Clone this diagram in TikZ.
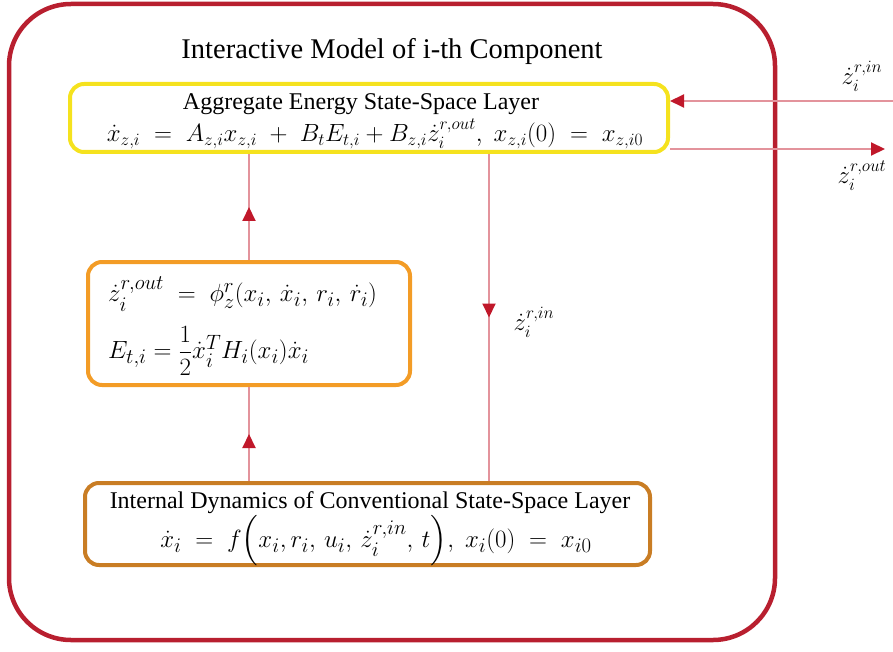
\documentclass[tikz,border=0pt]{standalone}
\usepackage{amsmath,amssymb}
\usepackage{fontspec}
\setmainfont{Liberation Serif}
\usetikzlibrary{arrows.meta, positioning, decorations.markings}
\definecolor{frameRed}{HTML}{B81F2F}
\definecolor{linkPink}{HTML}{E3939C}
\definecolor{tipRed}{HTML}{C0182A}
\definecolor{layerYellow}{HTML}{F5E21E}
\definecolor{layerOrange}{HTML}{F39C26}
\definecolor{layerBrown}{HTML}{C97D24}

\begin{document}
\begin{tikzpicture}[x=1pt, y=-1pt,
  layer/.style={draw, rounded corners=14pt, line width=4pt, inner sep=0pt},
  txt/.style={inner sep=0pt},
  link/.style={draw=linkPink, line width=2pt},
  midtip/.style={postaction={decorate}, decoration={markings,
    mark=at position 0.5 with {\arrow{Triangle[length=14pt, width=13pt, color=tipRed]}}}},
  endtip/.style={-{Triangle[length=14pt, width=13pt, color=tipRed]}}]
\useasboundingbox (0,0) rectangle (893,652);
\draw[frameRed, line width=4.5pt, rounded corners=62pt] (9,4) rectangle (775,640);
\node[txt] (title) at (392,52) {\fontsize{28.5}{32}\selectfont Interactive Model of i-th Component};

% aggregate energy layer
\node[layer, draw=layerYellow, minimum width=598pt, minimum height=68pt] (aggr) at (369,118) {};
\node[txt] (aggrtitle) at (361,104) {\fontsize{24}{28}\selectfont Aggregate Energy State-Space Layer};
\node[txt] (aggreq) at (375,134) {\fontsize{26}{30}\selectfont
  $\dot{x}_{z,i} \;=\; A_{z,i}x_{z,i} \;+\; B_tE_{t,i} + B_{z,i}\dot{z}_i^{r,out},\; x_{z,i}(0) \;=\; x_{z,i0}$};

% coupling outputs
\node[layer, draw=layerOrange, minimum width=322pt, minimum height=123pt] (coupl) at (249,323.5) {};
\node[txt, anchor=west] (zout) at (108,294) {\fontsize{27.5}{32}\selectfont
  $\dot{z}_i^{r,out} \;=\; \phi_z^r(x_i,\, \dot{x}_i,\, r_i,\, \dot{r}_i)$};
\node[txt, anchor=west] (energy) at (108,351) {\fontsize{27.5}{32}\selectfont
  $E_{t,i} = \dfrac{1}{2}\dot{x}_i^T H_i(x_i)\dot{x}_i$};

% internal dynamics layer
\node[layer, draw=layerBrown, minimum width=565pt, minimum height=82pt] (intern) at (367.5,524) {};
\node[txt] (interntitle) at (370,503) {\fontsize{24}{28}\selectfont Internal Dynamics of Conventional State-Space Layer};
\node[txt] (interneq) at (376,541) {\fontsize{28}{32}\selectfont
  $\dot{x}_i \;=\; f\Bigl(x_i, r_i,\, u_i,\, \dot{z}_i^{r,in},\, t\Bigr),\; x_i(0) \;=\; x_{i0}$};

% connectors
\coordinate (down) at (489,0);
\coordinate (inend) at (893,101);
\coordinate (outend) at (885,149);
\draw[link, midtip] (intern.north -| coupl.north) -- (coupl.south);
\draw[link, midtip] (coupl.north) -- (aggr.south -| coupl.north);
\draw[link, midtip] (aggr.south -| down) -- (intern.north -| down);
\draw[link, endtip] (inend) -- (inend -| aggr.east);
\draw[link, endtip] (outend -| aggr.east) -- (outend);

\node[txt] (zinlbl) at (534,322) {\fontsize{27}{30}\selectfont $\dot{z}_i^{r,in}$};
\node[txt] (zinext) at (862,76) {\fontsize{27}{30}\selectfont $\dot{z}_i^{r,in}$};
\node[txt] (zoutext) at (862,176) {\fontsize{27}{30}\selectfont $\dot{z}_i^{r,out}$};
\end{tikzpicture}
\end{document}
